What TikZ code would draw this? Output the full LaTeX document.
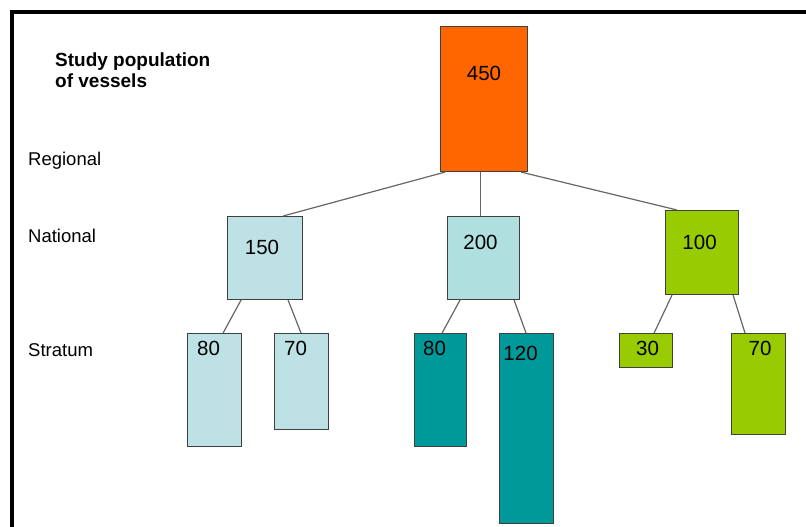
\documentclass[tikz,border=0pt]{standalone}
\usepackage{fontspec}
\setmainfont{Liberation Sans}
\usepackage{xcolor}
\definecolor{rootorange}{HTML}{FF6600}
\definecolor{paleblue}{HTML}{BDE1E5}
\definecolor{palecyan}{HTML}{B0DFDF}
\definecolor{darkteal}{HTML}{009999}
\definecolor{limegreen}{HTML}{99CC00}
\definecolor{linkgray}{HTML}{666666}

\tikzset{
  bar/.style={draw=black!75, line width=1.1pt, inner sep=0pt, anchor=north west},
  num/.style={anchor=base, inner sep=0pt, font=\fontsize{20.5}{24}\selectfont},
  level/.style={anchor=base west, inner sep=0pt, font=\fontsize{18.5}{22}\selectfont},
  link/.style={draw=linkgray, line width=1.2pt}
}

\begin{document}
\begin{tikzpicture}[x=1pt,y=-1pt]
\useasboundingbox (0,0) rectangle (806,527);

% frame
\draw[line width=4pt] (806,12) -- (12,12) -- (12,527);

% titles and levels
\node[anchor=north west, inner sep=0pt, align=left,
    font=\fontsize{19}{21}\selectfont\bfseries] (title) at (55,52.5)
    {Study population\\of vessels};
\node[level] (regional) at (28,165) {Regional};
\node[level] (national) at (28,242) {National};
\node[level] (stratum) at (28,356) {Stratum};

% regional
\node[bar, fill=rootorange, minimum width=87, minimum height=145,
    label={[num, yshift=-55pt]north:450}] (n450) at (440,26) {};

% national
\node[bar, fill=paleblue, minimum width=75, minimum height=83,
    label={[num, xshift=-3pt, yshift=-38pt]north:150}] (n150) at (227,216) {};
\node[bar, fill=palecyan, minimum width=72, minimum height=83,
    label={[num, xshift=-3pt, yshift=-33pt]north:200}] (n200) at (447,216) {};
\node[bar, fill=limegreen, minimum width=73, minimum height=84,
    label={[num, xshift=-2.5pt, yshift=-39pt]north:100}] (n100) at (665,210) {};

% stratum
\node[bar, fill=paleblue, minimum width=54, minimum height=113,
    label={[num, xshift=-6pt, yshift=-22pt]north:80}] (n80a) at (187,333) {};
\node[bar, fill=paleblue, minimum width=54, minimum height=96,
    label={[num, xshift=-6pt, yshift=-22pt]north:70}] (n70a) at (274,333) {};
\node[bar, fill=darkteal, minimum width=52, minimum height=113,
    label={[num, xshift=-6pt, yshift=-22pt]north:80}] (n80b) at (414,333) {};
\node[bar, fill=darkteal, minimum width=54, minimum height=190,
    label={[num, xshift=-6pt, yshift=-27pt]north:120}] (n120) at (499,333) {};
\node[bar, fill=limegreen, minimum width=53, minimum height=34,
    label={[num, xshift=1.5pt, yshift=-22pt]north:30}] (n30) at (619,333) {};
\node[bar, fill=limegreen, minimum width=54, minimum height=101,
    label={[num, xshift=1.5pt, yshift=-22pt]north:70}] (n70b) at (731,333) {};

% links
\draw[link] ([xshift=5pt]n450.south west) -- ([xshift=-20pt]n150.north east);
\draw[link] ([xshift=-3.5pt]n450.south) -- ([xshift=-3pt]n200.north);
\draw[link] ([xshift=-7pt]n450.south east) -- ([xshift=12pt]n100.north west);
\draw[link] ([xshift=14pt]n150.south west) -- ([xshift=-19pt]n80a.north east);
\draw[link] ([xshift=-15pt]n150.south east) -- ([xshift=27pt]n70a.north west);
\draw[link] ([xshift=13pt]n200.south west) -- ([xshift=-25pt]n80b.north east);
\draw[link] ([xshift=-6pt]n200.south east) -- ([xshift=27pt]n120.north west);
\draw[link] ([xshift=7pt]n100.south west) -- ([xshift=-19pt]n30.north east);
\draw[link] ([xshift=-6pt]n100.south east) -- ([xshift=14pt]n70b.north west);

\end{tikzpicture}
\end{document}
